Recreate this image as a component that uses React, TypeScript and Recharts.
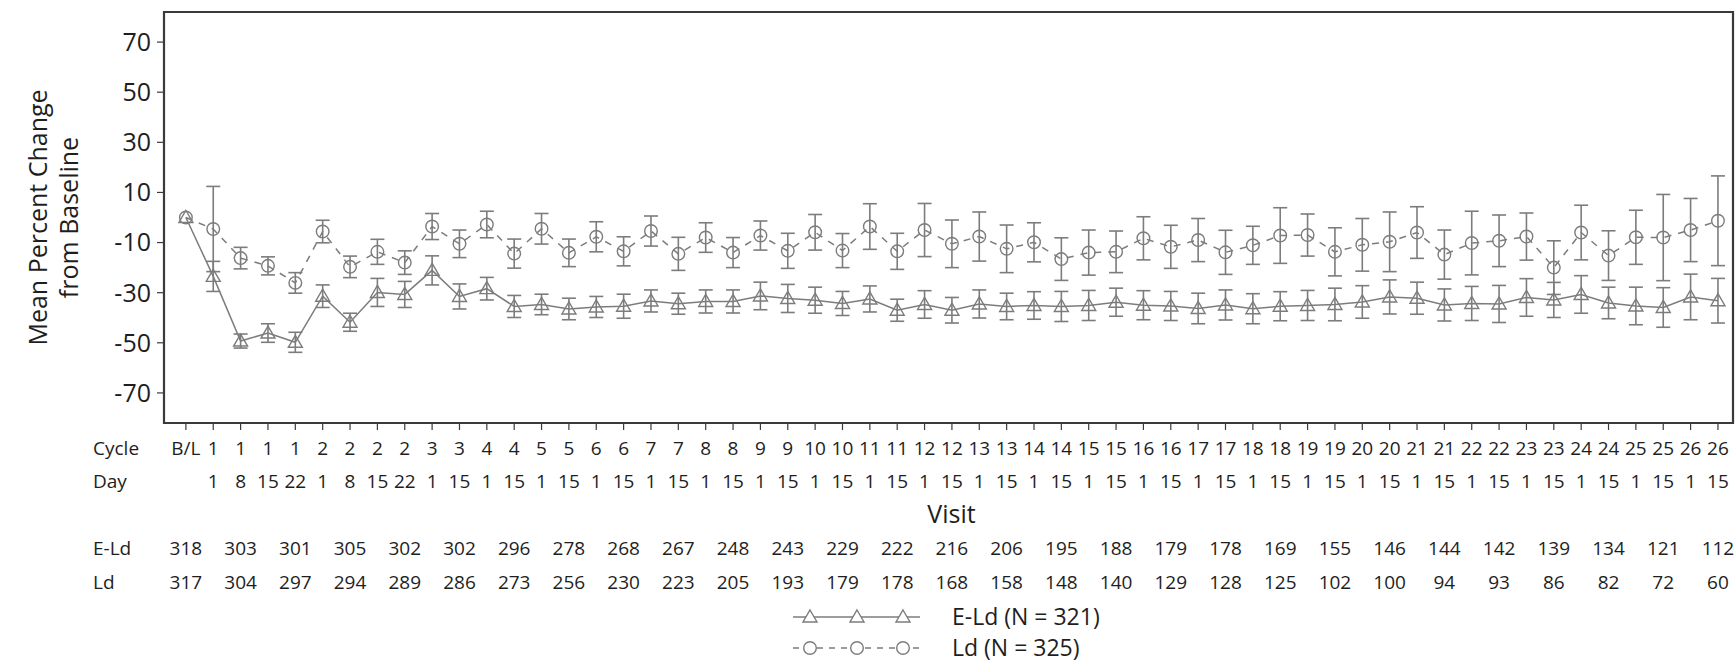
import React from 'react';
import {
  ComposedChart,
  Line,
  XAxis,
  YAxis,
  ErrorBar,
  ReferenceArea,
  Legend,
  Label,
} from 'recharts';

// Visit labels
const cycleLabels = [
  'B/L', '1', '1', '1', '1', '2', '2', '2', '2', '3', '3', '4', '4', '5', '5', '6', '6',
  '7', '7', '8', '8', '9', '9', '10', '10', '11', '11', '12', '12', '13', '13', '14', '14',
  '15', '15', '16', '16', '17', '17', '18', '18', '19', '19', '20', '20', '21', '21', '22', '22',
  '23', '23', '24', '24', '25', '25', '26', '26',
];
const dayLabels = [
  '', '1', '8', '15', '22', '1', '8', '15', '22', '1', '15', '1', '15', '1', '15', '1', '15',
  '1', '15', '1', '15', '1', '15', '1', '15', '1', '15', '1', '15', '1', '15', '1', '15',
  '1', '15', '1', '15', '1', '15', '1', '15', '1', '15', '1', '15', '1', '15', '1', '15',
  '1', '15', '1', '15', '1', '15', '1', '15',
];

// Mean percent change from baseline and error-bar half widths
const eldMean = [
  0, -23.5, -49.3, -46.1, -49.8, -31.4, -41.8, -29.9, -30.7, -21.1, -31.5, -28.4, -35.5, -34.7,
  -36.5, -35.7, -35.4, -33.3, -34.4, -33.5, -33.5, -31.3, -32.3, -33.0, -34.3, -32.5, -37.0,
  -34.7, -37.0, -34.5, -35.5, -35.1, -35.5, -35.1, -33.8, -35.0, -35.3, -36.3, -34.9, -36.4,
  -35.4, -35.1, -34.7, -33.7, -31.7, -32.2, -34.9, -34.3, -34.5, -31.9, -32.9, -30.7, -34.1,
  -35.3, -35.9, -31.7, -33.2,
];
const eldErr = [
  0, 6.0, 2.8, 3.7, 4.0, 4.5, 3.6, 5.6, 5.2, 5.8, 5.0, 4.5, 4.4, 4.1, 4.3, 4.2, 4.8, 4.4, 4.2,
  4.6, 4.6, 5.5, 5.6, 5.2, 4.8, 5.2, 4.4, 5.5, 5.1, 5.6, 5.3, 5.5, 6.0, 6.0, 5.6, 5.8, 5.8, 6.1,
  6.0, 6.0, 5.8, 6.0, 6.5, 6.5, 6.8, 6.4, 6.4, 6.8, 7.4, 7.5, 7.0, 7.5, 6.3, 7.5, 7.9, 9.1, 8.9,
];
const ldMean = [
  0, -4.6, -16.2, -19.3, -26.1, -5.6, -19.7, -13.7, -18.0, -3.6, -10.5, -2.8, -14.4, -4.5,
  -14.1, -7.7, -13.5, -5.4, -14.5, -8.0, -14.0, -7.2, -13.3, -5.9, -13.2, -3.6, -13.5, -5.0,
  -10.5, -7.6, -12.5, -9.9, -16.6, -14.0, -13.7, -8.3, -11.7, -9.0, -13.9, -11.1, -7.2, -7.0,
  -13.7, -10.9, -9.7, -6.0, -14.8, -10.2, -9.3, -7.6, -20.0, -6.0, -15.2, -7.9, -8.0, -5.0, -1.3,
];
const ldErr = [
  0, 17.0, 4.3, 3.6, 4.1, 4.5, 4.3, 5.0, 4.7, 5.2, 5.5, 5.3, 5.8, 6.1, 5.5, 6.0, 5.8, 6.0, 6.6,
  5.9, 6.0, 5.8, 7.0, 7.1, 6.8, 9.1, 7.2, 10.6, 9.5, 9.8, 9.5, 7.8, 8.5, 9.0, 8.3, 8.6, 8.6, 8.6,
  8.8, 7.6, 11.1, 8.4, 9.6, 10.5, 11.9, 10.3, 9.8, 12.7, 10.3, 9.4, 10.7, 10.9, 9.9, 10.8, 17.2,
  12.6, 17.9,
];

// Number of patients, shown under every second visit
const eldCounts = [
  318, 303, 301, 305, 302, 302, 296, 278, 268, 267, 248, 243, 229, 222, 216, 206, 195, 188, 179,
  178, 169, 155, 146, 144, 142, 139, 134, 121, 112,
];
const ldCounts = [
  317, 304, 297, 294, 289, 286, 273, 256, 230, 223, 205, 193, 179, 178, 168, 158, 148, 140, 129,
  128, 125, 102, 100, 94, 93, 86, 82, 72, 60,
];

const yTicks = [70, 50, 30, 10, -10, -30, -50, -70];
const Y_DOMAIN: [number, number] = [-82, 82];
const X_DOMAIN: [number, number] = [-0.8, 56.55];

const ELD_NAME = 'E-Ld (N = 321)';
const LD_NAME = 'Ld (N = 325)';

const data = cycleLabels.map((_, i) => ({
  idx: i,
  eld: eldMean[i],
  eldErr: eldErr[i],
  ld: ldMean[i],
  ldErr: ldErr[i],
}));
const xTicks = data.map((d) => d.idx);

const FONT = '"Open Sans", "DejaVu Sans", sans-serif';
const TEXT = '#1e1e1e';
const GRAY = '#7c7c7c';
const FRAME = '#3a3a3a';

const triPath = (cx: number, cy: number, s = 1) =>
  `M${cx},${cy - 7 * s} L${cx + 7 * s},${cy + 5 * s} L${cx - 7 * s},${cy + 5 * s} Z`;

const TriangleDot = (props: any) => {
  const { cx, cy, index } = props;
  if (cx == null || cy == null) return <g key={`t-${index}`} />;
  return (
    <path key={`t-${index}`} d={triPath(cx, cy)} fill="none" stroke={GRAY} strokeWidth={1.4} />
  );
};

const CircleDot = (props: any) => {
  const { cx, cy, index } = props;
  if (cx == null || cy == null) return <g key={`c-${index}`} />;
  return <circle key={`c-${index}`} cx={cx} cy={cy} r={6.3} fill="none" stroke={GRAY} strokeWidth={1.4} />;
};

const ROW_X = 93;

const VisitTick = (props: any) => {
  const { x, y, payload } = props;
  const i = payload.value as number;
  const common = {
    fontFamily: FONT,
    fontSize: 19,
    fill: TEXT,
    dy: '0.35em',
  };
  return (
    <g>
      <text x={x} y={y + 18} textAnchor="middle" {...common}>
        {cycleLabels[i]}
      </text>
      <text x={x} y={y + 51} textAnchor="middle" {...common}>
        {dayLabels[i]}
      </text>
      {i % 2 === 0 && (
        <>
          <text x={x} y={y + 118} textAnchor="middle" {...common}>
            {eldCounts[i / 2]}
          </text>
          <text x={x} y={y + 152} textAnchor="middle" {...common}>
            {ldCounts[i / 2]}
          </text>
        </>
      )}
      {i === 0 && (
        <>
          <text x={ROW_X} y={y + 18} textAnchor="start" {...common}>Cycle</text>
          <text x={ROW_X} y={y + 51} textAnchor="start" {...common}>Day</text>
          <text x={ROW_X} y={y + 118} textAnchor="start" {...common}>E-Ld</text>
          <text x={ROW_X} y={y + 152} textAnchor="start" {...common}>Ld</text>
        </>
      )}
    </g>
  );
};

const YTitle = (props: any) => {
  const { viewBox } = props;
  const cy = viewBox.y + viewBox.height / 2;
  const x1 = 38;
  const x2 = 69;
  return (
    <g fontFamily={FONT} fontSize={25} fill={TEXT} textAnchor="middle">
      <text x={x1} y={cy} dy="0.35em" transform={`rotate(-90, ${x1}, ${cy})`}>
        Mean Percent Change
      </text>
      <text x={x2} y={cy} dy="0.35em" transform={`rotate(-90, ${x2}, ${cy})`}>
        from Baseline
      </text>
    </g>
  );
};

const VisitTitle = (props: any) => {
  const { viewBox } = props;
  return (
    <text
      x={viewBox.x + viewBox.width / 2 + 3}
      y={viewBox.y + 91}
      dy="0.35em"
      textAnchor="middle"
      fontFamily={FONT}
      fontSize={25}
      fill={TEXT}
    >
      Visit
    </text>
  );
};

const LegendContent = (props: any) => {
  const { payload } = props;
  const items = (payload || []) as any[];
  const rowH = 31;
  const marks = [17, 64, 110];
  return (
    <svg width={440} height={60} style={{ overflow: 'visible', display: 'block' }}>
      {items.map((item, k) => {
        const cy = 17 + k * rowH;
        const isEld = item.dataKey === 'eld';
        return (
          <g key={item.value}>
            <line
              x1={0}
              x2={127}
              y1={cy}
              y2={cy}
              stroke={GRAY}
              strokeWidth={1.4}
              strokeDasharray={isEld ? undefined : '6 6'}
            />
            {marks.map((mx) =>
              isEld ? (
                <path key={mx} d={triPath(mx, cy)} fill="#fff" stroke={GRAY} strokeWidth={1.4} />
              ) : (
                <circle key={mx} cx={mx} cy={cy} r={6.3} fill="#fff" stroke={GRAY} strokeWidth={1.4} />
              )
            )}
            <text x={159} y={cy} dy="0.35em" fontFamily={FONT} fontSize={23} fill={TEXT}>
              {item.value}
            </text>
          </g>
        );
      })}
    </svg>
  );
};

export default function App() {
  return (
    <div style={{ position: 'absolute', left: 0, top: 0, width: 1736, height: 660, background: '#fff' }}>
      <ComposedChart
        width={1736}
        height={660}
        data={data}
        margin={{ top: 12, right: 3, bottom: 0, left: 0 }}
      >
        <XAxis
          dataKey="idx"
          type="number"
          domain={X_DOMAIN}
          ticks={xTicks}
          interval={0}
          allowDataOverflow
          height={237}
          axisLine={false}
          tickLine={{ stroke: FRAME, strokeWidth: 1.2 }}
          tickSize={7}
          tickMargin={0}
          tick={<VisitTick />}
        >
          <Label content={<VisitTitle />} />
        </XAxis>
        <YAxis
          type="number"
          domain={Y_DOMAIN}
          ticks={yTicks}
          interval={0}
          allowDataOverflow
          width={164}
          axisLine={false}
          tickLine={{ stroke: FRAME, strokeWidth: 1.2 }}
          tickSize={7}
          tickMargin={6}
          tick={{ fontFamily: FONT, fontSize: 25, fill: TEXT }}
        >
          <Label content={<YTitle />} />
        </YAxis>
        <ReferenceArea
          x1={X_DOMAIN[0]}
          x2={X_DOMAIN[1]}
          y1={Y_DOMAIN[0]}
          y2={Y_DOMAIN[1]}
          fill="none"
          stroke={FRAME}
          strokeWidth={2.2}
          ifOverflow="visible"
        />
        <Line
          dataKey="ld"
          name={LD_NAME}
          stroke={GRAY}
          strokeWidth={1.5}
          strokeDasharray="7 7"
          dot={CircleDot}
          activeDot={false}
          isAnimationActive={false}
        >
          <ErrorBar dataKey="ldErr" direction="y" width={7} stroke={GRAY} strokeWidth={1.6} />
        </Line>
        <Line
          dataKey="eld"
          name={ELD_NAME}
          stroke={GRAY}
          strokeWidth={1.5}
          dot={TriangleDot}
          activeDot={false}
          isAnimationActive={false}
        >
          <ErrorBar dataKey="eldErr" direction="y" width={7} stroke={GRAY} strokeWidth={1.6} />
        </Line>
        <Legend
          layout="horizontal"
          verticalAlign="middle"
          align="center"
          content={<LegendContent />}
          wrapperStyle={{ left: 793, top: 600, width: 440, height: 60 }}
        />
      </ComposedChart>
    </div>
  );
}
